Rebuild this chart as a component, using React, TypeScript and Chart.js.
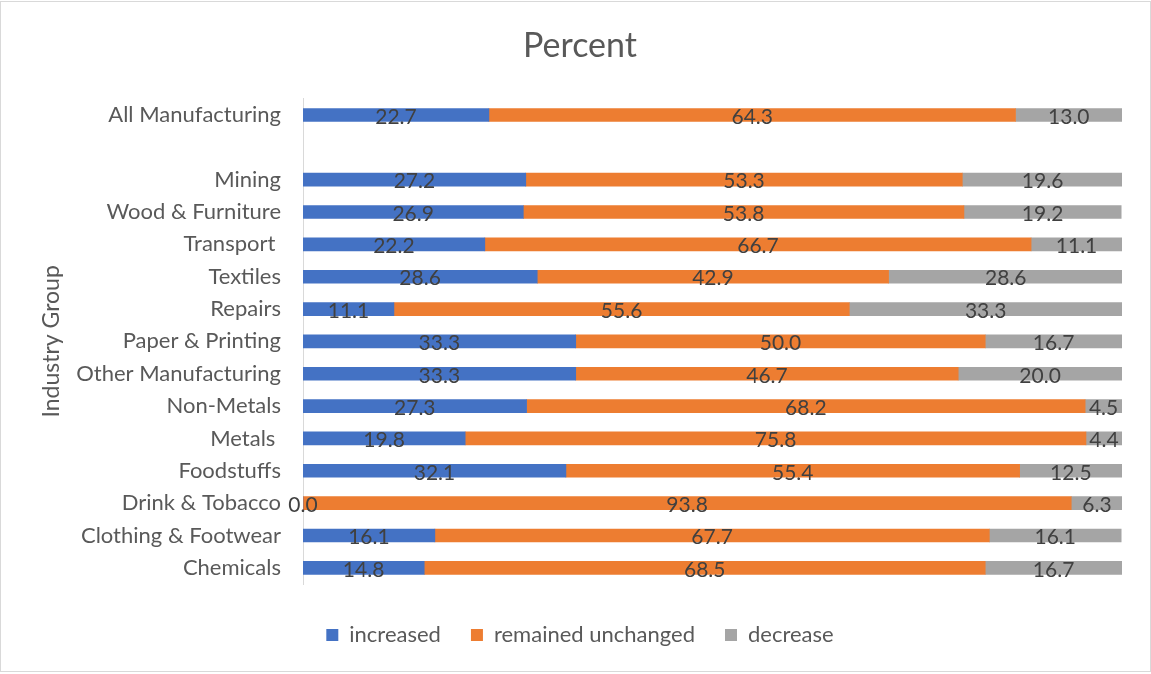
import React, { useEffect, useRef } from "react";
import { Chart, registerables } from "chart.js";

Chart.register(...registerables);

const industries = [
  "All Manufacturing",
  "",
  "Mining",
  "Wood & Furniture",
  "Transport ",
  "Textiles",
  "Repairs",
  "Paper & Printing",
  "Other Manufacturing",
  "Non-Metals",
  "Metals ",
  "Foodstuffs",
  "Drink & Tobacco",
  "Clothing & Footwear",
  "Chemicals",
];

const increased = [22.7, null, 27.2, 26.9, 22.2, 28.6, 11.1, 33.3, 33.3, 27.3, 19.8, 32.1, 0.0, 16.1, 14.8];
const unchanged = [64.3, null, 53.3, 53.8, 66.7, 42.9, 55.6, 50.0, 46.7, 68.2, 75.8, 55.4, 93.8, 67.7, 68.5];
const decrease = [13.0, null, 19.6, 19.2, 11.1, 28.6, 33.3, 16.7, 20.0, 4.5, 4.4, 12.5, 6.3, 16.1, 16.7];

const FONT = "Lato, 'Open Sans', sans-serif";
const TEXT = "#595959";

// Prints each segment's value in the middle of its bar piece
const valueLabels = {
  id: "valueLabels",
  afterDatasetsDraw(chart: any) {
    const ctx = chart.ctx;
    ctx.save();
    ctx.font = `21px ${FONT}`;
    ctx.fillStyle = "#404040";
    ctx.textAlign = "center";
    ctx.textBaseline = "middle";
    chart.data.datasets.forEach((ds: any, i: number) => {
      const meta = chart.getDatasetMeta(i);
      meta.data.forEach((bar: any, j: number) => {
        const v = ds.data[j];
        if (v === null || v === undefined) return;
        const cx = (bar.x + bar.base) / 2;
        ctx.fillText(v.toFixed(1), cx, bar.y + 2);
      });
    });
    ctx.restore();
  },
};

export default function App() {
  const canvasRef = useRef<HTMLCanvasElement | null>(null);

  useEffect(() => {
    if (!canvasRef.current) return;
    const chart = new Chart(canvasRef.current, {
      type: "bar",
      data: {
        labels: industries,
        datasets: [
          { label: "increased", data: increased, backgroundColor: "#4472C4", barThickness: 13 },
          { label: "remained unchanged", data: unchanged, backgroundColor: "#ED7D31", barThickness: 13 },
          { label: "decrease", data: decrease, backgroundColor: "#A5A5A5", barThickness: 13 },
        ],
      },
      options: {
        indexAxis: "y",
        responsive: false,
        animation: false,
        layout: { padding: { top: 16, left: 38, right: 29, bottom: 18 } },
        scales: {
          x: {
            stacked: true,
            min: 0,
            max: 100,
            grid: { display: false },
            border: { display: false },
            ticks: { display: false },
            afterFit: (scale: any) => {
              scale.height = 10;
            },
          },
          y: {
            stacked: true,
            grid: { display: false, drawTicks: false },
            border: { display: true, color: "#d9d9d9", width: 1 },
            ticks: { color: TEXT, font: { family: FONT, size: 22 }, padding: 22 },
            title: {
              display: true,
              text: "Industry Group",
              color: TEXT,
              font: { family: FONT, size: 23 },
              padding: 0,
            },
            afterFit: (scale: any) => {
              scale.width = 265;
            },
          },
        },
        plugins: {
          title: {
            display: true,
            text: "Percent",
            color: TEXT,
            font: { family: FONT, size: 34, weight: "normal" },
            padding: { top: 10, bottom: 32 },
          },
          legend: {
            position: "bottom",
            labels: {
              color: TEXT,
              font: { family: FONT, size: 22 },
              boxWidth: 12,
              boxHeight: 12,
              padding: 30,
            },
          },
          tooltip: { enabled: false },
        },
      },
      plugins: [valueLabels],
    });
    return () => chart.destroy();
  }, []);

  return (
    <div style={{ position: "absolute", left: 0, top: 0, width: 1151, height: 674, background: "#fff" }}>
      <canvas ref={canvasRef} width={1151} height={674} style={{ position: "absolute", left: 0, top: 0 }} />
      <div
        style={{
          position: "absolute",
          left: 0,
          top: 1,
          width: 1151,
          height: 671,
          boxSizing: "border-box",
          border: "1px solid #d9d9d9",
          pointerEvents: "none",
        }}
      />
    </div>
  );
}
